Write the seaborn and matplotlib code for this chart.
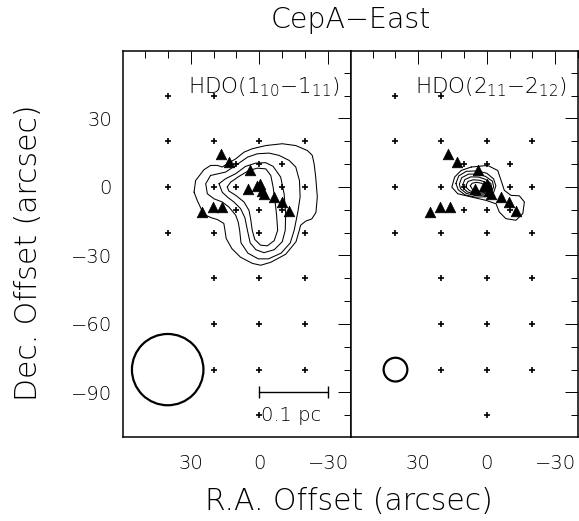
import numpy as np
import pandas as pd
import seaborn as sns
import matplotlib.pyplot as plt
from matplotlib.patches import Circle
from matplotlib.ticker import MultipleLocator

# observed map positions (R.A., Dec. offsets in arcsec)
grid_ra = [40, 20,
           40, 20, 0, -20,
           10, 0, -10,
           40, 20, 10, 0, -10, -20,
           10, 0, -10,
           40, 20, 0, -20,
           20, 0, -20,
           20, 0, -20,
           20, 0, -20,
           0]
grid_dec = [40, 40,
            20, 20, 20, 20,
            10, 10, 10,
            0, 0, 0, 0, 0, 0,
            -10, -10, -10,
            -20, -20, -20, -20,
            -40, -40, -40,
            -60, -60, -60,
            -80, -80, -80,
            -100]

# embedded sources (filled triangles)
src_ra = [16.8, 13.2, 3.9, 5.1, 1.0, -0.1, -1.0, -2.0, -6.4, -9.8, -12.8, 24.9, 20.4, 16.1]
src_dec = [14.5, 11.0, 7.4, -0.8, 0.2, 1.4, -1.6, -3.0, -4.5, -6.5, -10.5, -11.2, -9.0, -9.0]

hdo110_contours = [
    [(28.5, -2.3), (27.8, 2.8), (24.2, 7.5), (21.3, 9.4), (18.3, 9.4), (16.2, 8.7), (14.0, 10.1),
     (10.3, 12.3), (6.7, 15.2), (3.1, 16.7), (-2.8, 18.1), (-10.0, 18.9), (-15.9, 18.1),
     (-21.0, 15.9), (-23.1, 13.8), (-23.9, 10.1), (-24.6, 4.3), (-25.3, -4.4), (-24.7, -11.2),
     (-22.9, -14.0), (-20.2, -15.0), (-18.0, -16.8), (-17.3, -19.5), (-16.0, -24.0),
     (-11.5, -29.5), (-5.0, -33.0), (-0.6, -34.3), (3.0, -33.5), (8.2, -30.8), (12.0, -27.0),
     (14.5, -22.5), (15.0, -19.0), (15.5, -16.0), (18.3, -14.3), (21.0, -13.5), (23.4, -12.4),
     (25.0, -10.5), (27.1, -5.9), (28.5, -2.3)],
    [(21.3, 5.0), (14.7, 6.5), (10.3, 9.4), (5.2, 13.0), (0.9, 14.5), (-4.2, 14.8), (-8.6, 13.8),
     (-13.0, 11.6), (-15.9, 8.7), (-17.5, 2.8), (-17.8, -4.4), (-16.8, -11.0), (-15.2, -19.0),
     (-13.5, -24.5), (-9.5, -29.0), (-4.0, -31.5), (0.5, -31.5), (5.0, -29.0), (8.0, -24.5),
     (8.6, -19.0), (9.2, -15.5), (10.3, -12.4), (13.3, -8.8), (16.2, -6.6), (19.8, -5.2),
     (22.7, -3.0), (23.4, 1.4), (21.3, 5.0)],
    [(17.6, 1.4), (14.7, 3.6), (10.3, 5.8), (6.0, 9.0), (1.6, 10.4), (-2.8, 10.6), (-6.0, 9.0),
     (-9.3, 4.3), (-10.8, -3.0), (-11.5, -11.7), (-11.3, -19.0), (-10.0, -24.0), (-6.5, -27.5),
     (-2.0, -28.8), (1.5, -27.5), (4.0, -24.5), (5.2, -19.0), (6.3, -13.5), (8.2, -9.5),
     (11.1, -6.6), (14.0, -4.4), (16.2, -2.3), (17.6, 1.4)],
    [(14.0, 0.0), (12.5, 2.1), (8.9, 4.6), (4.5, 7.2), (0.9, 8.2), (-2.8, 7.9), (-5.0, 5.0),
     (-6.0, 0.0), (-6.8, -5.9), (-7.5, -12.0), (-8.0, -19.0), (-6.5, -23.5), (-3.5, -25.8),
     (-0.5, -25.5), (2.0, -23.0), (3.1, -19.0), (3.8, -14.0), (4.5, -10.3), (6.7, -6.6),
     (10.3, -3.7), (13.3, -1.8), (14.0, 0.0)],
]

hdo211_contours = [
    [(6.8, 8.7), (-0.4, 9.4), (-4.8, 7.2), (-6.3, 2.8), (-7.7, -1.5), (-10.6, -3.7),
     (-14.3, -3.9), (-16.5, -6.6), (-15.8, -11.7), (-12.8, -14.6), (-8.4, -13.9), (-5.5, -11.0),
     (-4.1, -7.4), (0.3, -5.9), (6.8, -4.4), (12.7, -3.0), (15.3, -0.1), (14.1, 4.3),
     (11.2, 7.2), (6.8, 8.7)],
    [(13.5, 1.5), (12.3, 4.8), (9.0, 6.8), (4.5, 7.0), (0.0, 6.0), (-3.0, 3.5), (-4.0, 0.5),
     (-3.0, -2.5), (0.5, -4.3), (5.0, -4.5), (9.5, -3.5), (12.5, -1.3), (13.5, 1.5)],
    [(12.0, 1.2), (11.0, 4.0), (8.0, 5.6), (4.0, 5.6), (0.5, 4.6), (-2.5, 2.5), (-3.0, 0.0),
     (-2.0, -2.3), (1.0, -3.6), (5.0, -3.8), (9.0, -2.8), (11.5, -0.8), (12.0, 1.2)],
    [(10.5, 1.0), (9.6, 3.2), (7.0, 4.4), (3.5, 4.3), (0.5, 3.3), (-1.8, 1.5), (-2.2, -0.5),
     (-1.0, -2.2), (1.5, -3.1), (5.0, -3.1), (8.5, -2.2), (10.2, -0.6), (10.5, 1.0)],
    [(9.0, 0.8), (8.2, 2.4), (6.0, 3.1), (3.0, 2.9), (0.5, 2.0), (-1.2, 0.6), (-1.4, -0.9),
     (-0.3, -2.1), (2.0, -2.6), (5.0, -2.5), (7.6, -1.6), (8.8, -0.4), (9.0, 0.8)],
    [(7.2, 0.5), (6.4, 1.6), (4.5, 2.0), (2.3, 1.6), (0.5, 0.6), (-0.6, -0.5), (-0.2, -1.5),
     (1.5, -2.0), (4.0, -1.9), (6.2, -1.2), (7.2, 0.5)],
]

panel_labels = ["HDO(1$_{10}$\u22121$_{11}$)", "HDO(2$_{11}$\u22122$_{12}$)"]
beam_fwhm = [31.2, 10.4]  # arcsec
beam_pos = (40, -80)
scalebar = (0, -30, -90)  # x0, x1, y  (0.1 pc)

sns.set_theme(style="white")
plt.rcParams['font.family'] = ['DejaVu Sans']
plt.rcParams['font.weight'] = 200
plt.rcParams['mathtext.fontset'] = 'custom'
plt.rcParams['mathtext.rm'] = 'DejaVu Sans:weight=200'
plt.rcParams['mathtext.default'] = 'rm'
plt.rcParams['axes.linewidth'] = 1.1
for key in ['text.color', 'axes.labelcolor', 'xtick.color', 'ytick.color', 'axes.edgecolor']:
    plt.rcParams[key] = 'black'

grid_df = pd.DataFrame({'ra': grid_ra, 'dec': grid_dec})
src_df = pd.DataFrame({'ra': src_ra, 'dec': src_dec})

fig = plt.figure(figsize=(5.79, 5.21), dpi=100)
ax1 = fig.add_axes([123 / 579, 84 / 521, 228 / 579, 386 / 521])
ax2 = fig.add_axes([351 / 579, 84 / 521, 227 / 579, 386 / 521])

for i, (ax, contours) in enumerate(zip([ax1, ax2], [hdo110_contours, hdo211_contours])):
    for c in contours:
        xs, ys = zip(*c)
        ax.plot(xs, ys, color='black', lw=0.75)
    sns.scatterplot(data=grid_df, x='ra', y='dec', marker='+', color='black',
                    s=22, linewidth=1.2, ax=ax, zorder=3)
    sns.scatterplot(data=src_df, x='ra', y='dec', marker='^', color='black',
                    edgecolor='black', s=58, linewidth=0.5, ax=ax, zorder=4)
    ax.add_patch(Circle(beam_pos, beam_fwhm[i] / 2, fill=False, lw=1.6, color='black'))
    ax.text(0.95, 0.905, panel_labels[i], transform=ax.transAxes, ha='right',
            va='center', fontsize=15.5)

    ax.set_xlim(59.5, -40)
    ax.set_ylim(-109.5, 59.5)
    ax.xaxis.set_major_locator(MultipleLocator(30))
    ax.xaxis.set_minor_locator(MultipleLocator(10))
    ax.yaxis.set_major_locator(MultipleLocator(30))
    ax.yaxis.set_minor_locator(MultipleLocator(10))
    ax.tick_params(which='both', direction='in', top=True, right=True,
                   color='black', width=0.7, labelsize=14)
    ax.tick_params(which='major', length=9.5)
    ax.tick_params(which='minor', length=4.7)
    ax.tick_params(axis='x', pad=12)
    ax.tick_params(axis='y', pad=8)
    ax.set_xlabel('')
    ax.set_ylabel('')
    for sp in ax.spines.values():
        sp.set_color('black')

ax2.tick_params(labelleft=False)

# 0.1 pc scale bar
ax1.plot([scalebar[0], scalebar[1]], [scalebar[2], scalebar[2]], color='black', lw=1.0,
         marker='|', ms=8, mew=1.0)
ax1.text(-0.8, -100, '0.1 pc', ha='left', va='center', fontsize=14)

fig.text(351 / 579, 1 - 20 / 521, 'CepA\u2212East', ha='center', va='center', fontsize=20.5)
fig.text(349 / 579, 1 - 502 / 521, 'R.A. Offset (arcsec)', ha='center', va='center', fontsize=21.5)
fig.text(29 / 579, 1 - 253 / 521, 'Dec. Offset (arcsec)', ha='center', va='center',
         rotation=90, fontsize=21.5)

fig.savefig('out.png', dpi=100)
